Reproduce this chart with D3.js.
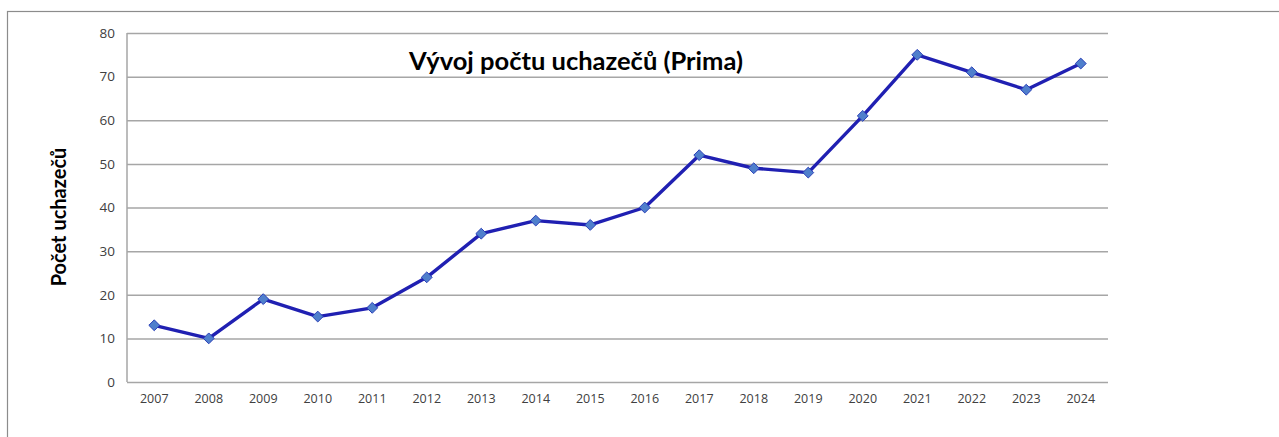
<!DOCTYPE html>
<html lang="cs">
  <head>
    <meta charset="utf-8">
    <title>Vývoj počtu uchazečů (Prima)</title>
    <script src="https://d3js.org/d3.v7.js"></script>
    <style>
      body { margin: 0; background: white; overflow: hidden; }
      text { font-family: "Lato", "Open Sans", sans-serif; }
    </style>
  </head>
  <body>
    <script>
    const years = ["2007","2008","2009","2010","2011","2012","2013","2014","2015",
                   "2016","2017","2018","2019","2020","2021","2022","2023","2024"];
    const counts = [13, 10, 19, 15, 17, 24, 34, 37, 36, 40, 52, 49, 48, 61, 75, 71, 67, 73];
    const yTicks = [0, 10, 20, 30, 40, 50, 60, 70, 80];
    const title = "Vývoj počtu uchazečů (Prima)";
    const yTitle = "Počet uchazečů";

    const w = 1279;
    const h = 437;
    const plotLeft = 127, plotRight = 1108, plotTop = 33, plotBottom = 382;

    const svg = d3.select("body")
      .append("svg")
      .attr("width", w)
      .attr("height", h)
      .style("display", "block");

    // outer chart frame
    svg.append("rect")
      .attr("x", 7.5)
      .attr("y", 11.5)
      .attr("width", w + 10)
      .attr("height", h + 10)
      .attr("fill", "white")
      .attr("stroke", "#8c8c8c")
      .attr("stroke-width", 1.2);

    const x = d3.scaleBand()
      .domain(years)
      .range([plotLeft, plotRight]);

    const y = d3.scaleLinear()
      .domain([0, 80])
      .range([plotBottom, plotTop]);

    // gridlines + y labels
    const yAxis = svg.append("g")
      .attr("transform", `translate(${plotLeft},0)`)
      .call(d3.axisLeft(y).tickValues(yTicks).tickSize(-(plotRight - plotLeft)).tickPadding(12));
    yAxis.select(".domain").remove();
    yAxis.selectAll("line")
      .attr("stroke", "#a6a6a6")
      .attr("stroke-width", 1.5);
    yAxis.selectAll("text")
      .attr("fill", "#404040")
      .style("font-size", "13.5px")
      .style("font-family", "'Open Sans', sans-serif");

    // vertical axis line
    svg.append("line")
      .attr("x1", plotLeft).attr("x2", plotLeft)
      .attr("y1", y(80)).attr("y2", y(0))
      .attr("stroke", "#a6a6a6")
      .attr("stroke-width", 1.5);

    const xAxis = svg.append("g")
      .attr("transform", `translate(0,${plotBottom})`)
      .call(d3.axisBottom(x).tickSize(0).tickPadding(12));
    xAxis.select(".domain").remove();
    xAxis.selectAll("text")
      .attr("fill", "#404040")
      .style("font-size", "12.5px")
      .style("font-family", "'Open Sans', sans-serif");

    const pts = years.map((yr, i) => ({ year: yr, value: counts[i] }));
    const cx = d => x(d.year) + x.bandwidth() / 2;

    svg.append("path")
      .datum(pts)
      .attr("fill", "none")
      .attr("stroke", "#2020b2")
      .attr("stroke-width", 3.4)
      .attr("stroke-linejoin", "round")
      .attr("d", d3.line().x(cx).y(d => y(d.value)));

    svg.selectAll(".pt")
      .data(pts)
      .enter()
      .append("path")
      .attr("class", "pt")
      .attr("transform", d => `translate(${cx(d)},${y(d.value)})`)
      .attr("d", d3.symbol(d3.symbolDiamond2, 75))
      .attr("fill", "#4f7fcc")
      .attr("stroke", "#2a3fb8")
      .attr("stroke-width", 1);

    svg.append("text")
      .attr("x", 576)
      .attr("y", 70)
      .attr("text-anchor", "middle")
      .style("font-size", "25.5px")
      .style("font-weight", "bold")
      .attr("fill", "black")
      .text(title);

    svg.append("text")
      .attr("transform", `translate(66,217) rotate(-90)`)
      .attr("text-anchor", "middle")
      .style("font-size", "20px")
      .style("font-weight", "bold")
      .attr("fill", "black")
      .text(yTitle);
    </script>
  </body>
</html>
